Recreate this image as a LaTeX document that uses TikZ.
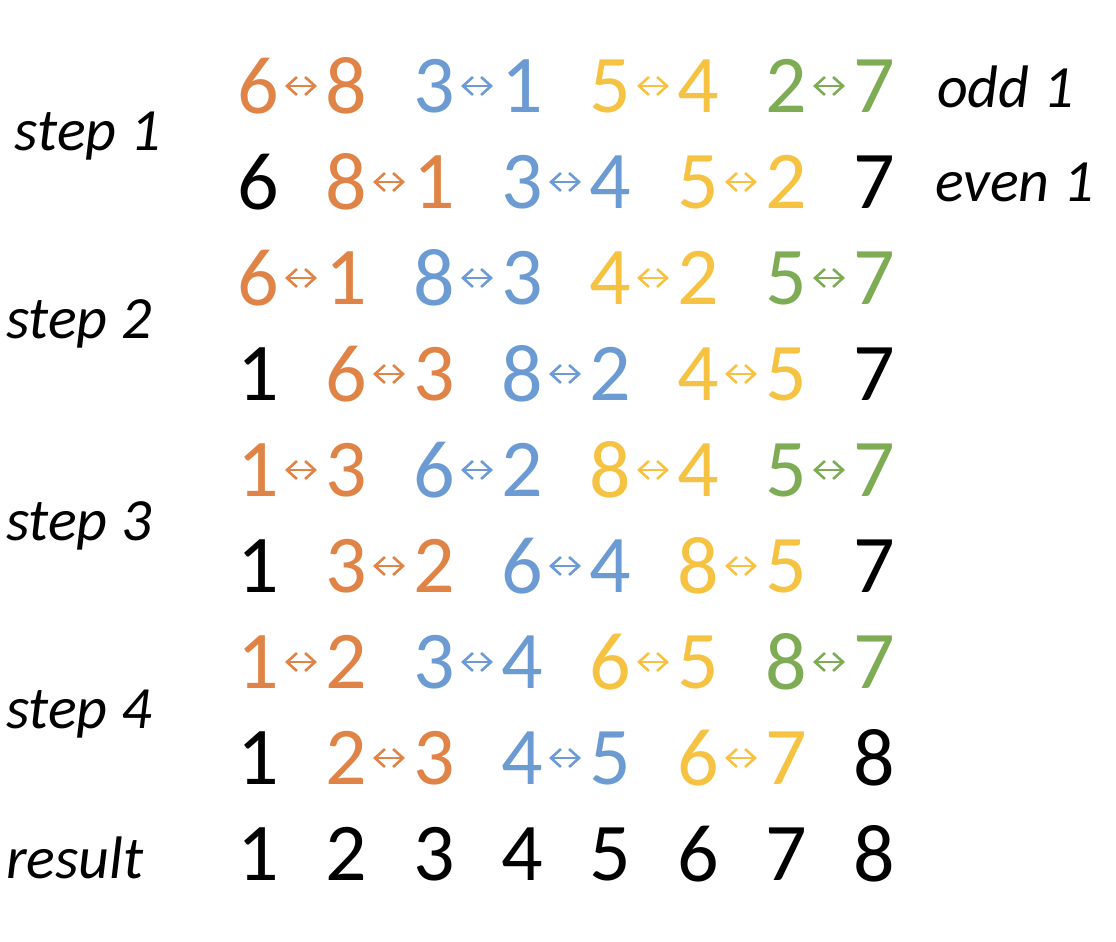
\documentclass[tikz,border=0pt]{standalone}
\usepackage{fontspec}
\setmainfont{Carlito}
\usepackage{tikz}
\usetikzlibrary{positioning}
\usetikzlibrary{arrows.meta}
\definecolor{orangeC}{RGB}{224,131,70}
\definecolor{blueC}{RGB}{107,155,210}
\definecolor{yellowC}{RGB}{245,194,66}
\definecolor{greenC}{RGB}{125,172,84}
\newcommand{\digitfont}{\fontsize{41pt}{41pt}\selectfont}
\newcommand{\labelfont}{\fontsize{30pt}{30pt}\selectfont\itshape}

\begin{document}
\begin{tikzpicture}[x=0.5pt, y=-0.5pt, node distance=0cm, outer sep=0pt]
\tikzstyle{num}=[
                  rectangle,
                  inner sep=0pt,
                  minimum width=44pt,
                  minimum height=48pt,
                  font=\digitfont]
\tikzstyle{org}=[num, text=orangeC]
\tikzstyle{blu}=[num, text=blueC]
\tikzstyle{yel}=[num, text=yellowC]
\tikzstyle{grn}=[num, text=greenC]
\tikzstyle{blk}=[num, text=black]

\tikzstyle{xchg}=[
                  {Straight Barb[length=5pt,width=9pt]}-{Straight Barb[length=5pt,width=9pt]},
                  line width=1.3pt,
                  shorten <=13.5pt,
                  shorten >=14.5pt]

\tikzstyle{lbl}=[
                  rectangle,
                  inner sep=0pt,
                  anchor=base west,
                  font=\labelfont]

\useasboundingbox (0,0) rectangle (1116,942);

% odd 1
\node[org] (a1) at(258,86) {6};
\node[org] (a2) [right = of a1] {8};
\node[blu] (a3) [right = of a2] {3};
\node[blu] (a4) [right = of a3] {1};
\node[yel] (a5) [right = of a4] {5};
\node[yel] (a6) [right = of a5] {4};
\node[grn] (a7) [right = of a6] {2};
\node[grn] (a8) [right = of a7] {7};

% even 1
\node[blk] (b1) [below = of a1] {6};
\node[org] (b2) [right = of b1] {8};
\node[org] (b3) [right = of b2] {1};
\node[blu] (b4) [right = of b3] {3};
\node[blu] (b5) [right = of b4] {4};
\node[yel] (b6) [right = of b5] {5};
\node[yel] (b7) [right = of b6] {2};
\node[blk] (b8) [right = of b7] {7};

% step 2
\node[org] (c1) [below = of b1] {6};
\node[org] (c2) [right = of c1] {1};
\node[blu] (c3) [right = of c2] {8};
\node[blu] (c4) [right = of c3] {3};
\node[yel] (c5) [right = of c4] {4};
\node[yel] (c6) [right = of c5] {2};
\node[grn] (c7) [right = of c6] {5};
\node[grn] (c8) [right = of c7] {7};

\node[blk] (d1) [below = of c1] {1};
\node[org] (d2) [right = of d1] {6};
\node[org] (d3) [right = of d2] {3};
\node[blu] (d4) [right = of d3] {8};
\node[blu] (d5) [right = of d4] {2};
\node[yel] (d6) [right = of d5] {4};
\node[yel] (d7) [right = of d6] {5};
\node[blk] (d8) [right = of d7] {7};

% step 3
\node[org] (e1) [below = of d1] {1};
\node[org] (e2) [right = of e1] {3};
\node[blu] (e3) [right = of e2] {6};
\node[blu] (e4) [right = of e3] {2};
\node[yel] (e5) [right = of e4] {8};
\node[yel] (e6) [right = of e5] {4};
\node[grn] (e7) [right = of e6] {5};
\node[grn] (e8) [right = of e7] {7};

\node[blk] (f1) [below = of e1] {1};
\node[org] (f2) [right = of f1] {3};
\node[org] (f3) [right = of f2] {2};
\node[blu] (f4) [right = of f3] {6};
\node[blu] (f5) [right = of f4] {4};
\node[yel] (f6) [right = of f5] {8};
\node[yel] (f7) [right = of f6] {5};
\node[blk] (f8) [right = of f7] {7};

% step 4
\node[org] (g1) [below = of f1] {1};
\node[org] (g2) [right = of g1] {2};
\node[blu] (g3) [right = of g2] {3};
\node[blu] (g4) [right = of g3] {4};
\node[yel] (g5) [right = of g4] {6};
\node[yel] (g6) [right = of g5] {5};
\node[grn] (g7) [right = of g6] {8};
\node[grn] (g8) [right = of g7] {7};

\node[blk] (h1) [below = of g1] {1};
\node[org] (h2) [right = of h1] {2};
\node[org] (h3) [right = of h2] {3};
\node[blu] (h4) [right = of h3] {4};
\node[blu] (h5) [right = of h4] {5};
\node[yel] (h6) [right = of h5] {6};
\node[yel] (h7) [right = of h6] {7};
\node[blk] (h8) [right = of h7] {8};

% result
\node[blk] (res1) [below = of h1]   {1};
\node[blk] (res2) [right = of res1] {2};
\node[blk] (res3) [right = of res2] {3};
\node[blk] (res4) [right = of res3] {4};
\node[blk] (res5) [right = of res4] {5};
\node[blk] (res6) [right = of res5] {6};
\node[blk] (res7) [right = of res6] {7};
\node[blk] (res8) [right = of res7] {8};

% swaps
\draw [xchg,orangeC] (a1.center) -- (a2.center);
\draw [xchg,blueC]   (a3.center) -- (a4.center);
\draw [xchg,yellowC] (a5.center) -- (a6.center);
\draw [xchg,greenC]  (a7.center) -- (a8.center);

\draw [xchg,orangeC] (b2.center) -- (b3.center);
\draw [xchg,blueC]   (b4.center) -- (b5.center);
\draw [xchg,yellowC] (b6.center) -- (b7.center);

\draw [xchg,orangeC] (c1.center) -- (c2.center);
\draw [xchg,blueC]   (c3.center) -- (c4.center);
\draw [xchg,yellowC] (c5.center) -- (c6.center);
\draw [xchg,greenC]  (c7.center) -- (c8.center);

\draw [xchg,orangeC] (d2.center) -- (d3.center);
\draw [xchg,blueC]   (d4.center) -- (d5.center);
\draw [xchg,yellowC] (d6.center) -- (d7.center);

\draw [xchg,orangeC] (e1.center) -- (e2.center);
\draw [xchg,blueC]   (e3.center) -- (e4.center);
\draw [xchg,yellowC] (e5.center) -- (e6.center);
\draw [xchg,greenC]  (e7.center) -- (e8.center);

\draw [xchg,orangeC] (f2.center) -- (f3.center);
\draw [xchg,blueC]   (f4.center) -- (f5.center);
\draw [xchg,yellowC] (f6.center) -- (f7.center);

\draw [xchg,orangeC] (g1.center) -- (g2.center);
\draw [xchg,blueC]   (g3.center) -- (g4.center);
\draw [xchg,yellowC] (g5.center) -- (g6.center);
\draw [xchg,greenC]  (g7.center) -- (g8.center);

\draw [xchg,orangeC] (h2.center) -- (h3.center);
\draw [xchg,blueC]   (h4.center) -- (h5.center);
\draw [xchg,yellowC] (h6.center) -- (h7.center);

\node[lbl] (step1)  at(15,150) {step 1};
\node[lbl] (step2)  at(6,338)  {step 2};
\node[lbl] (step3)  at(6,540)  {step 3};
\node[lbl] (step4)  at(6,728)  {step 4};
\node[lbl] (result) at(6,878)  {result};

\node[lbl] (odd1)  at(937,107) {odd 1};
\node[lbl] (even1) at(935,201) {even 1};

\end{tikzpicture}
\end{document}
